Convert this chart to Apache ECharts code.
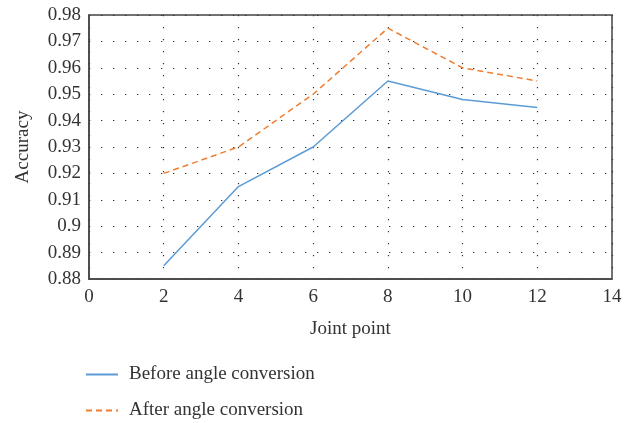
<!DOCTYPE html>
<html>
<head>
<meta charset="utf-8">
<script src="https://cdn.jsdelivr.net/npm/echarts@6/dist/echarts.min.js"></script>
<style>html,body{margin:0;padding:0;background:#fff}#c{width:638px;height:423px}</style>
</head>
<body>
<div id="c"></div>
<script>
const jointPoints = [2, 4, 6, 8, 10, 12];
const beforeAngle = [0.885, 0.915, 0.930, 0.955, 0.948, 0.945];
const afterAngle = [0.920, 0.930, 0.950, 0.975, 0.960, 0.955];
const seriesNames = ['Before angle conversion', 'After angle conversion'];

const FONT = 'Liberation Serif';
const FS = 19;
const txt = '#333';
const chart = echarts.init(document.getElementById('c'), null, {renderer: 'canvas'});
const dotted = {type: [1.3, 10.7], color: '#333', width: 1.2};
function legendFor(name, top) {
  return {
    orient: 'vertical', left: 80, top: top,
    itemWidth: 32, itemHeight: 18, itemGap: 18,
    itemStyle: {opacity: 0},
    textStyle: {fontFamily: FONT, fontSize: FS, color: txt, padding: [0, 0, 0, 6]},
    data: [name]
  };
}
chart.setOption({
  animation: false,
  textStyle: {fontFamily: FONT},
  grid: {left: 89, top: 15, width: 523, height: 264, show: true, borderColor: '#444', borderWidth: 1.5, backgroundColor: 'transparent'},
  legend: [legendFor(seriesNames[0], 360), legendFor(seriesNames[1], 396)],
  xAxis: {
    type: 'value', min: 0, max: 14, interval: 2,
    name: 'Joint point', nameLocation: 'middle', nameGap: 41,
    nameTextStyle: {fontFamily: FONT, fontSize: FS, color: txt},
    axisLine: {show: true, lineStyle: {color: '#444', width: 1.5}},
    axisTick: {show: false},
    axisLabel: {fontFamily: FONT, fontSize: FS, color: txt, margin: 9},
    splitLine: {show: true, lineStyle: dotted}
  },
  yAxis: {
    type: 'value', min: 0.88, max: 0.98, interval: 0.01,
    name: 'Accuracy', nameLocation: 'middle', nameGap: 56, nameRotate: 90,
    nameTextStyle: {fontFamily: FONT, fontSize: FS, color: txt},
    axisLine: {show: true, lineStyle: {color: '#444', width: 1.5}},
    axisTick: {show: false},
    axisLabel: {fontFamily: FONT, fontSize: FS, color: txt, margin: 8,
      formatter: v => String(Math.round(v * 100) / 100)},
    splitLine: {show: true, lineStyle: dotted}
  },
  series: [
    {
      name: seriesNames[0], type: 'line', symbol: 'none',
      data: jointPoints.map((x, i) => [x, beforeAngle[i]]),
      lineStyle: {color: '#5b9bd5', width: 1.5},
      itemStyle: {color: '#5b9bd5'}
    },
    {
      name: seriesNames[1], type: 'line', symbol: 'none',
      data: jointPoints.map((x, i) => [x, afterAngle[i]]),
      lineStyle: {color: '#ed7d31', width: 1.5, type: [6, 4]},
      itemStyle: {color: '#ed7d31'}
    }
  ]
});
</script>
</body>
</html>
